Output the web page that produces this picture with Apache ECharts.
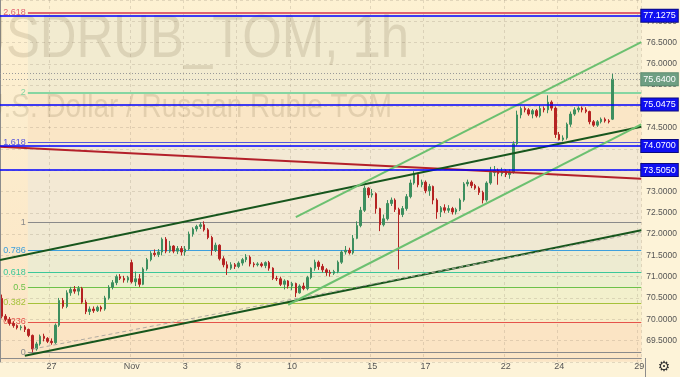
<!DOCTYPE html>
<html>
<head>
<meta charset="utf-8">
<script src="https://cdn.jsdelivr.net/npm/echarts@6/dist/echarts.min.js"></script>
<style>
  html, body { margin: 0; padding: 0; background: #fdf3d8; }
  #main { width: 680px; height: 377px; }
</style>
</head>
<body>
<div id="main"></div>
<script>
// trading days on the hourly chart, 7 bars per day
var days = ['10-25', '10-26', '10-27', '10-28', '10-29', '11-01', '11-02', '11-03', '11-05',
            '11-08', '11-09', '11-10', '11-11', '11-12', '11-15', '11-16', '11-17', '11-18',
            '11-19', '11-22', '11-23', '11-24', '11-25', '11-26', '11-29'];
var tickLabels = { '10-27': '27', '11-01': 'Nov', '11-03': '3', '11-08': '8', '11-10': '10',
                   '11-15': '15', '11-17': '17', '11-22': '22', '11-24': '24', '11-29': '29' };

// [open, close, low, high]
var bars = [
  // Oct 25
  [70.49,70.07,70.02,70.58],[70.07,70.00,69.95,70.12],[70.00,69.90,69.85,70.05],
  [69.90,69.85,69.80,69.95],[69.85,69.80,69.76,69.88],[69.80,69.82,69.74,69.86],
  // Oct 26
  [69.82,69.76,69.70,69.86],[69.76,69.62,69.58,69.78],[69.62,69.30,69.22,69.64],
  [69.30,69.42,69.26,69.47],[69.42,69.60,69.38,69.64],[69.60,69.55,69.48,69.66],
  [69.55,69.48,69.44,69.58],
  // Oct 27
  [69.48,69.45,69.40,69.55],[69.45,69.86,69.42,69.90],[69.86,70.44,69.82,70.50],
  [70.44,70.30,70.25,70.50],[70.30,70.62,70.26,70.68],[70.62,70.70,70.55,70.76],
  [70.70,70.66,70.60,70.78],
  // Oct 28
  [70.66,70.72,70.56,70.78],[70.72,70.40,70.36,70.76],[70.40,70.18,70.12,70.46],
  [70.18,70.24,70.10,70.30],[70.24,70.20,70.15,70.30],[70.20,70.28,70.17,70.32],
  [70.28,70.24,70.18,70.32],
  // Oct 29
  [70.24,70.50,70.20,70.55],[70.50,70.75,70.46,70.80],[70.75,70.86,70.70,70.92],
  [70.86,71.00,70.80,71.05],[71.00,70.96,70.92,71.06],[70.96,70.92,70.86,71.02],
  [70.92,70.98,70.86,71.02],
  // Nov 1
  [71.33,70.88,70.84,71.40],[70.88,70.95,70.78,71.12],[70.95,70.82,70.76,71.06],
  [70.82,71.18,70.80,71.22],[71.18,71.40,71.14,71.44],[71.40,71.55,71.36,71.60],
  [71.55,71.52,71.47,71.64],
  // Nov 2
  [71.52,71.58,71.46,71.65],[71.58,71.88,71.50,71.92],[71.88,71.60,71.55,71.93],
  [71.60,71.72,71.56,71.84],[71.72,71.60,71.55,71.74],[71.60,71.66,71.53,71.72],
  [71.66,71.58,71.50,71.72],
  // Nov 3
  [71.58,71.65,71.49,71.72],[71.65,72.00,71.62,72.06],[72.00,72.12,71.94,72.16],
  [72.12,72.18,72.06,72.22],[72.18,72.22,72.12,72.28],[72.22,72.10,72.06,72.30],
  [72.10,71.92,71.88,72.14],
  // Nov 5
  [71.92,71.62,71.50,71.96],[71.62,71.74,71.58,71.80],[71.74,71.42,71.38,71.76],
  [71.42,71.28,71.22,71.48],[71.28,71.20,71.04,71.36],[71.20,71.28,71.16,71.34],
  [71.28,71.24,71.18,71.32],
  // Nov 8
  [71.24,71.32,71.20,71.36],[71.32,71.40,71.26,71.44],[71.40,71.46,71.34,71.53],
  [71.46,71.30,71.24,71.50],[71.30,71.28,71.22,71.34],[71.28,71.30,71.24,71.34],
  [71.30,71.26,71.22,71.34],
  // Nov 9
  [71.26,71.33,71.20,71.36],[71.33,71.20,71.14,71.37],[71.20,70.96,70.92,71.22],
  [70.96,70.95,70.90,71.02],[70.95,70.82,70.78,71.00],[70.82,70.90,70.70,70.94],
  [70.90,70.78,70.72,70.92],
  // Nov 10
  [70.78,70.84,70.68,70.88],[70.84,70.62,70.52,70.86],[70.62,70.78,70.60,70.82],
  [70.78,70.72,70.68,70.86],[70.72,70.98,70.68,71.02],[70.98,71.20,70.94,71.22],
  [71.20,71.34,71.14,71.40],
  // Nov 11
  [71.34,71.24,71.16,71.38],[71.24,71.16,71.10,71.30],[71.16,71.10,71.02,71.20],
  [71.10,71.08,71.00,71.16],[71.08,71.12,71.04,71.16],[71.12,71.34,71.08,71.38],
  [71.34,71.58,71.30,71.62],
  // Nov 12
  [71.58,71.62,71.52,71.72],[71.62,71.56,71.52,71.68],[71.56,71.90,71.52,71.98],
  [71.90,72.20,71.88,72.30],[72.20,72.56,72.16,72.64],[72.56,73.08,72.52,73.14],
  [73.08,72.92,72.85,73.10],
  // Nov 15
  [72.92,72.95,72.86,73.06],[72.95,72.60,72.48,72.98],[72.60,72.22,72.07,72.62],
  [72.22,72.36,72.18,72.46],[72.36,72.72,72.32,72.80],[72.72,72.80,72.66,72.86],
  [72.80,72.58,72.52,72.84],
  // Nov 16
  [72.58,72.46,71.17,72.62],[72.46,72.60,72.40,72.66],[72.60,72.88,72.55,72.94],
  [72.88,73.20,72.84,73.28],[73.20,73.40,73.16,73.48],[73.40,73.16,73.10,73.44],
  [73.16,73.22,73.10,73.28],
  // Nov 17
  [73.22,73.02,72.96,73.26],[73.02,73.12,72.90,73.18],[73.12,72.80,72.70,73.14],
  [72.80,72.52,72.36,72.84],[72.52,72.62,72.40,72.66],[72.62,72.56,72.50,72.70],
  [72.56,72.60,72.50,72.68],
  // Nov 18
  [72.60,72.52,72.46,72.64],[72.52,72.58,72.46,72.62],[72.58,72.80,72.54,72.84],
  [72.80,73.18,72.76,73.22],[73.18,73.22,73.12,73.28],[73.22,73.14,73.08,73.26],
  [73.14,73.08,73.04,73.18],
  // Nov 19
  [73.08,72.98,72.92,73.12],[72.98,72.80,72.72,73.02],[72.80,73.20,72.76,73.24],
  [73.20,73.45,73.16,73.58],[73.45,73.50,73.36,73.60],[73.50,73.42,73.16,73.54],
  [73.42,73.48,73.36,73.56],
  // Nov 22
  [73.48,73.40,73.34,73.52],[73.40,73.46,73.30,73.52],[73.46,74.12,73.42,74.18],
  [74.12,74.80,74.08,74.90],[74.80,74.95,74.72,75.00],[74.95,74.92,74.86,75.00],
  [74.92,74.82,74.78,74.96],
  // Nov 23
  [74.82,74.90,74.72,74.94],[74.90,74.78,74.74,74.94],[74.78,74.95,74.74,75.02],
  [74.95,74.92,74.86,75.00],[74.92,75.10,74.84,75.26],[75.10,74.96,74.90,75.14],
  [74.96,74.34,74.26,75.00],
  // Nov 24
  [74.34,74.22,74.20,74.40],[74.22,74.26,74.18,74.32],[74.26,74.58,74.22,74.62],
  [74.58,74.82,74.52,74.88],[74.82,74.92,74.78,74.98],[74.92,74.96,74.86,75.00],
  [74.96,74.92,74.86,75.00],
  // Nov 25
  [74.92,74.88,74.84,74.98],[74.88,74.64,74.58,74.90],[74.64,74.56,74.52,74.68],
  [74.56,74.64,74.52,74.68],[74.64,74.70,74.60,74.74],[74.70,74.66,74.62,74.74],
  [74.66,74.64,74.60,74.70],
  // Nov 26
  [74.70,75.64,74.68,75.77]
];

// fibonacci retracement drawn from the Oct 26 low to the Nov 3 high
var fibLow = 69.22, fibHigh = 72.27, fibStartBar = 7.3;
var fibRatios = [0, 0.236, 0.382, 0.5, 0.618, 0.786, 1, 1.618, 2, 2.618];

// horizontal levels and last price
var levels = [77.1275, 75.0475, 74.07, 73.505];
var lastPrice = 75.64, lastHigh = 75.77;

// trend lines, [bar position, price]
var redLine = [[0, 74.05], [168, 73.30]];
var upperDark = [[0, 71.39], [168, 74.52]];
var lowerDark = [[6.5, 69.14], [168, 72.09]];
var dashedLine = [[8.6, 69.30], [168, 72.04]];
var channelTop = [[77.5, 72.40], [168, 76.51]];
var channelBottom = [[75.5, 70.34], [168, 74.58]];

var fibColors = ['#8a8a8a', '#e5534b', '#a5c23a', '#6cc24a', '#3cc79a', '#3d9fdc',
                 '#8a8a8a', '#5555dd', '#86d6a2', '#e06270'];
var zoneColors = ['#fbe4c4', '#f8eec9', '#f2f0cc', '#ecefcf', '#edebd1',
                  '#f0e9d3', '#f3e9d4', '#fae6c6', '#f2ebd0'];

var sans = "'Liberation Sans', Arial, sans-serif";

var cats = [];
days.forEach(function (d, di) {
  var from = di === 0 ? 1 : 0;
  var to = di === days.length - 1 ? 1 : 7;
  for (var i = from; i < to; i++) cats.push(d + '|' + i);
});
var candleData = bars.slice();
while (candleData.length < cats.length) candleData.push('-');
var lastBar = cats.length;

function showTick(idx, value) {
  var p = value.split('|');
  return p[1] === '0' && tickLabels[p[0]] !== undefined;
}

var fibVal = fibRatios.map(function (r) { return fibLow + r * (fibHigh - fibLow); });

var zones = [];
for (var z = 0; z < fibVal.length - 1; z++) {
  zones.push([
    { coord: [fibStartBar, fibVal[z]], itemStyle: { color: zoneColors[z] } },
    { coord: [lastBar, fibVal[z + 1]] }
  ]);
}
var fibLines = fibRatios.map(function (r, i) {
  return [
    { coord: [fibStartBar, fibVal[i]],
      lineStyle: { color: fibColors[i], width: r === 2 || r === 2.618 ? 2 : 1.2, type: 'solid' },
      label: { show: true, position: 'start', formatter: String(r), color: fibColors[i],
               fontSize: 9, fontFamily: sans, distance: 2 } },
    { coord: [lastBar, fibVal[i]] }
  ];
});

function tag(v, bg, border) {
  return {
    show: true, position: 'end', distance: 0,
    formatter: v.toFixed(4),
    color: '#fff', backgroundColor: bg, borderColor: border, borderWidth: 1,
    padding: [2, 2, 1, 2], fontSize: 9, fontFamily: sans
  };
}

function trend(data, color, width, type) {
  return {
    type: 'line', xAxisIndex: 1, yAxisIndex: 0, data: data, z: 6,
    showSymbol: false, symbol: 'none', silent: true,
    lineStyle: { color: color, width: width, type: type || 'solid' }
  };
}

var chart = echarts.init(document.getElementById('main'), null, { renderer: 'canvas' });
chart.setOption({
  animation: false,
  backgroundColor: '#fdf3d8',
  grid: {
    left: 0, right: 35, top: -3.3, bottom: 15.2, show: true, borderWidth: 0, z: 0,
    backgroundColor: new echarts.graphic.LinearGradient(0, 0, 0, 1, [
      { offset: 0, color: '#fdf1d2' }, { offset: 1, color: '#fbe5c5' }
    ])
  },
  xAxis: [{
    type: 'category', data: cats, boundaryGap: true, offset: -4, z: 1.5,
    axisLine: { lineStyle: { color: '#8c8c8c' } },
    axisTick: { show: false },
    axisLabel: { interval: showTick, color: '#555', fontSize: 9, fontFamily: sans, margin: 4,
                 formatter: function (v) { return tickLabels[v.split('|')[0]] || ''; } },
    splitLine: { show: true, interval: showTick,
                 lineStyle: { color: 'rgba(130,120,100,0.22)', type: [3, 3] } }
  }, {
    type: 'value', min: 0, max: lastBar, show: false
  }],
  yAxis: [{
    type: 'value', position: 'right', min: 69, max: 77.5, interval: 0.5, z: 1.5,
    axisLine: { show: true, lineStyle: { color: '#8c8c8c' } },
    axisTick: { show: false },
    axisLabel: { color: '#555', fontSize: 8.5, fontFamily: sans, margin: 5,
                 showMinLabel: false, showMaxLabel: false,
                 formatter: function (v) { return v.toFixed(4); } },
    splitLine: { show: true, lineStyle: { color: 'rgba(130,120,100,0.22)', type: [3, 3] } }
  }],
  graphic: [
    { type: 'text', z: 2, x: 409, y: 40, scaleX: 0.82, silent: true,
      style: { text: 'USDRUB_TOM, 1h', fill: 'rgba(110,95,60,0.17)', align: 'right',
               verticalAlign: 'middle', font: '62px ' + sans } },
    { type: 'text', z: 2, x: 392, y: 108, scaleX: 0.82, silent: true,
      style: { text: 'U.S. Dollar / Russian Ruble TOM', fill: 'rgba(110,95,60,0.17)',
               align: 'right', verticalAlign: 'middle', font: '34px ' + sans } },
    { type: 'line', z: 2, silent: true, shape: { x1: 645.5, y1: 358, x2: 645.5, y2: 377 },
      style: { stroke: '#8c8c8c', lineWidth: 1 } },
    { type: 'text', z: 2, x: 664, y: 367, silent: true,
      style: { text: '\u2699', fill: '#333', align: 'center', verticalAlign: 'middle',
               font: '14px DejaVu Sans' } }
  ],
  series: [
    {
      type: 'line', xAxisIndex: 1, yAxisIndex: 0, data: [], z: 1, silent: true,
      markArea: { silent: true, z: 1, data: zones }
    },
    {
      type: 'line', xAxisIndex: 1, yAxisIndex: 0, data: [], z: 3, silent: true,
      markLine: { silent: true, z: 3, symbol: ['none', 'none'], data: fibLines }
    },
    {
      type: 'candlestick', xAxisIndex: 0, yAxisIndex: 0, data: candleData, z: 4,
      barWidth: 2, silent: true,
      itemStyle: { color: '#3d8f5f', color0: '#b52222', borderColor: '#3d8f5f',
                   borderColor0: '#b52222', borderWidth: 1 }
    },
    trend(redLine, '#b3202a', 2),
    trend(upperDark, '#17561d', 2),
    trend(lowerDark, '#17561d', 2),
    trend(dashedLine, '#b0aaa0', 1, [4, 3]),
    trend(channelTop, '#6cc070', 2),
    trend(channelBottom, '#6cc070', 2),
    {
      type: 'line', xAxisIndex: 1, yAxisIndex: 0, data: [], z: 7, silent: true,
      markLine: {
        silent: true, z: 7, symbol: ['none', 'none'], precision: 4,
        data: levels.map(function (v) {
          return { yAxis: v, lineStyle: { color: '#0000ff', width: 1.6, type: 'solid' },
                   label: tag(v, '#1010f0', '#0a0a80') };
        }).concat([
          { yAxis: lastHigh, lineStyle: { color: '#999', width: 1, type: [1, 2] },
            label: { show: false } },
          { yAxis: lastPrice, lineStyle: { color: '#999', width: 1, type: [1, 2] },
            label: tag(lastPrice, '#6f9f83', '#5a8a6e') }
        ])
      }
    }
  ]
});
</script>
</body>
</html>
